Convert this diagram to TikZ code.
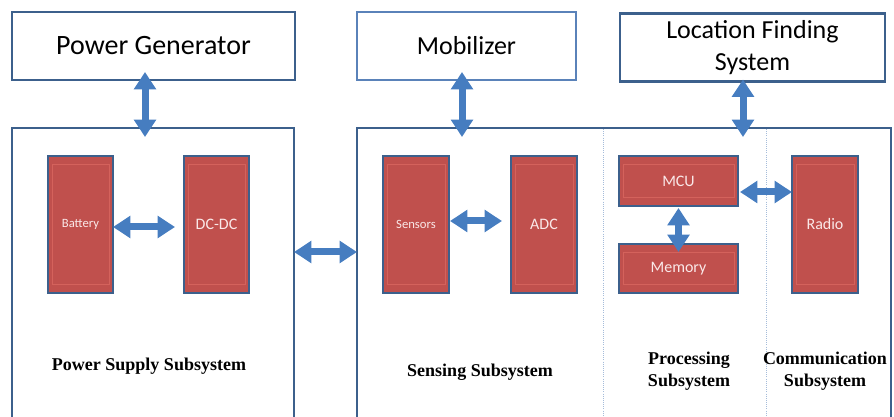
\documentclass[tikz,border=0pt]{standalone}
\usepackage{fontspec}
\setmainfont{Liberation Serif}
\newfontfamily\calfont{Carlito}
\usetikzlibrary{arrows.meta,positioning,calc}
\definecolor{boxblue}{RGB}{60,96,140}
\definecolor{lightboxblue}{RGB}{90,130,185}
\definecolor{blockred}{RGB}{192,80,77}
\definecolor{innerred}{RGB}{212,98,92}
\definecolor{arrowblue}{RGB}{70,125,192}
\definecolor{dotblue}{RGB}{165,188,218}
\definecolor{blocktext}{RGB}{250,232,232}

\begin{document}
\begin{tikzpicture}[x=0.75pt,y=-0.75pt,
  topbox/.style={draw=boxblue,line width=1.7pt,inner sep=0pt,outer sep=0pt,
    minimum height={68*0.75pt},align=center,
    font=\calfont\fontsize{19.5}{24.5}\selectfont},
  subsys/.style={draw=boxblue,line width=1.7pt,inner sep=0pt,outer sep=0pt,
    minimum height={302*0.75pt}},
  block/.style={draw=boxblue,fill=blockred,line width=1.5pt,inner sep=0pt,
    outer sep=0pt,text=blocktext,font=\calfont\fontsize{12}{14}\selectfont,
    path picture={\draw[innerred,line width=0.5pt]
      ([xshift=3pt,yshift=-6.5pt]path picture bounding box.north west) rectangle
      ([xshift=-3pt,yshift=6.5pt]path picture bounding box.south east);}},
  tallblock/.style={block,minimum width={66*0.75pt},minimum height={137*0.75pt}},
  wideblock/.style={block,minimum width={119*0.75pt},minimum height={50*0.75pt}},
  dblarrow/.style={draw=arrowblue,line width=5.25pt,
    arrows={Triangle[width=16pt,length=13pt]-Triangle[width=16pt,length=13pt]}},
  sublabel/.style={font=\bfseries\fontsize{13.5}{16.5}\selectfont,align=center}]

\useasboundingbox (0,0) rectangle (894,417);
\clip (0,0) rectangle (894,417);

% outside units
\node[topbox,minimum width={283*0.75pt},font=\calfont\fontsize{21}{25}\selectfont] (pg) at (153.5,46) {Power Generator};
\node[topbox,draw=lightboxblue,minimum width={219*0.75pt}] (mob) at (466.5,46) {Mobilizer};
\node[topbox,minimum width={265*0.75pt}] (loc) at (752.5,47.5) {Location Finding\\System};

% subsystems
\node[subsys,minimum width={282*0.75pt}] (psu) at (153,279) {};
\node[subsys,minimum width={534*0.75pt}] (sense) at (624,279) {};
\draw[dotblue,densely dotted,line width=0.6pt] (603,129) -- (603,417);
\draw[dotblue,densely dotted,line width=0.6pt] (766,129) -- (766,417);

% blocks
\node[tallblock,minimum width={65*0.75pt},font=\calfont\fontsize{9.5}{11}\selectfont] (bat) at (80.5,224.5) {Battery};
\node[tallblock,minimum width={65*0.75pt}] (dcdc) at (216.5,224.5) {DC-DC};
\node[tallblock,font=\calfont\fontsize{9.5}{11}\selectfont] (sen) at (416,224.5) {Sensors};
\node[tallblock] (adc) at (544,224.5) {ADC};
\node[wideblock] (mcu) at (678.5,181) {MCU};
\node[wideblock,minimum height={49*0.75pt}] (mem) at (678.5,268.5) {Memory};
\node[tallblock] (radio) at (825,224.5) {Radio};

% labels
\node[sublabel] (psulab) at (149,366) {Power Supply Subsystem};
\node[sublabel] (senlab) at (480,372) {Sensing Subsystem};
\node[sublabel] (proclab) at (689,371) {Processing\\Subsystem};
\node[sublabel] (commlab) at (825,371) {Communication\\Subsystem};

% links
\draw[dblarrow] ($(pg.south)+(-8.5,-8)$) -- ($(pg.south |- psu.north)+(-8.5,9)$);
\draw[dblarrow] ($(mob.south)+(-4.5,-8)$) -- ($(mob.south |- sense.north)+(-4.5,9)$);
\draw[dblarrow] ($(loc.south)+(-9.5,-2)$) -- ($(loc.south |- sense.north)+(-9.5,9)$);
\draw[dblarrow] ($(bat.east)+(0,2.5)$) -- ($(dcdc.west)+(-9,2.5)$);
\draw[dblarrow] ($(psu.east)+(0,-27)$) -- ($(sense.west)+(0,-27)$);
\draw[dblarrow] ($(sen.east)+(1,-3.5)$) -- ($(adc.west)+(-9,-3.5)$);
\draw[dblarrow] ($(mcu.east)+(2,11)$) -- ($(radio.west |- mcu.east)+(0,11)$);
\draw[dblarrow] ($(mcu.south)+(0,2)$) -- ($(mem.north)+(0,8)$);
\end{tikzpicture}
\end{document}
